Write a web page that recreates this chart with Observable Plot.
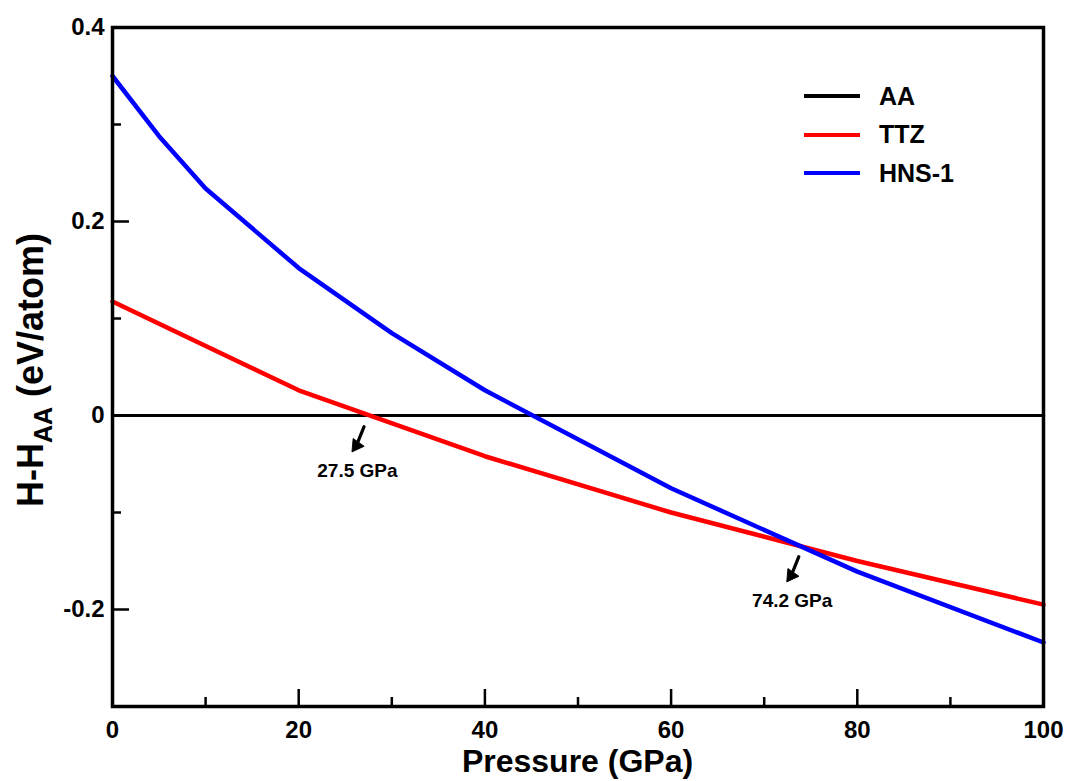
<!DOCTYPE html>
<html>
<head>
<meta charset="utf-8">
<script src="https://cdn.jsdelivr.net/npm/d3@7"></script>
<script src="https://cdn.jsdelivr.net/npm/@observablehq/plot@0.6"></script>
<style>
  html, body { margin: 0; padding: 0; background: #fff; }
  #chart { position: relative; width: 1070px; height: 781px; }
  #legend { position: absolute; left: 804px; top: 77px; font-family: "Liberation Sans", Arial, sans-serif; font-weight: bold; font-size: 25px; }
  #legend .row { display: flex; align-items: center; height: 38.5px; }
  #legend svg { margin-right: 19px; }
</style>
</head>
<body>
<div id="chart"><div id="legend"></div></div>
<script>
// Data
const pressureHNS = [0, 5, 10, 20, 30, 40, 60, 80, 100];
const enthalpyHNS = [0.350, 0.288, 0.234, 0.152, 0.085, 0.026, -0.075, -0.161, -0.234];
const pressureTTZ = [0, 20, 40, 60, 80, 100];
const enthalpyTTZ = [0.1175, 0.026, -0.042, -0.100, -0.150, -0.195];
const pressureAA = [0, 100];
const enthalpyAA = [0, 0];
const seriesNames = ["AA", "TTZ", "HNS-1"];
const seriesColors = ["#000000", "#ff0000", "#0000ff"];
const transitionPressures = [27.5, 74.2];
const transitionEnthalpies = [0, -0.134];
const transitionLabels = ["27.5 GPa", "74.2 GPa"];
const xMajorTicks = [0, 20, 40, 60, 80, 100];
const xMinorTicks = [10, 30, 50, 70, 90];
const yMajorTicks = [0.4, 0.2, 0, -0.2];
const yMinorTicks = [0.3, 0.1, -0.1, -0.3];

const lineRows = (name, ps, hs) => ps.map((p, i) => ({series: name, p, h: hs[i]}));
const aaRows = lineRows("AA", pressureAA, enthalpyAA);
const curveRows = [
  ...lineRows("TTZ", pressureTTZ, enthalpyTTZ),
  ...lineRows("HNS-1", pressureHNS, enthalpyHNS)
];
const annotations = transitionPressures.map((p, i) => ({p, h: transitionEnthalpies[i], label: transitionLabels[i]}));

const W = 1070, H = 781;
const mL = 112, mR = 27, mT = 27, mB = 75;
const plotH = H - mT - mB, plotW = W - mL - mR;

// arrow end (head centre) relative to the transition point, in data units
const headX = d => d.p - 1.3;
const headY = d => d.h - 0.031;

const font = '"Liberation Sans", Arial, sans-serif';
const chart = Plot.plot({
  width: W, height: H,
  marginLeft: mL, marginRight: mR, marginTop: mT, marginBottom: mB,
  style: {fontFamily: font, fontWeight: "bold", fontSize: "24px", color: "#000", background: "#fff"},
  x: {domain: [0, 100]},
  y: {domain: [-0.3, 0.4]},
  color: {domain: seriesNames, range: seriesColors},
  marks: [
    Plot.axisX(xMajorTicks, {tickSize: 0, tickPadding: 14, label: null, fontSize: 24}),
    Plot.axisY(yMajorTicks, {tickSize: 0, tickPadding: 8, label: null, fontSize: 24,
      tickFormat: d => d === 0 ? "0" : d.toFixed(1)}),
    Plot.tickX(xMajorTicks, {x: d => d, insetTop: plotH - 17, stroke: "#000", strokeWidth: 2.5}),
    Plot.tickX(xMinorTicks, {x: d => d, insetTop: plotH - 9, stroke: "#000", strokeWidth: 2.5}),
    Plot.tickY(yMajorTicks, {y: d => d, insetRight: plotW - 17, stroke: "#000", strokeWidth: 2.5}),
    Plot.tickY(yMinorTicks, {y: d => d, insetRight: plotW - 9, stroke: "#000", strokeWidth: 2.5}),
    Plot.line(aaRows, {x: "p", y: "h", stroke: "series", strokeWidth: 3.2}),
    Plot.line(curveRows, {x: "p", y: "h", z: "series", stroke: "series", strokeWidth: 4.5}),
    Plot.arrow(annotations, {
      x1: d => d.p, y1: d => d.h, x2: headX, y2: headY,
      insetStart: 12, stroke: "#000", strokeWidth: 3.2, headLength: 0
    }),
    Plot.dot(annotations, {x: headX, y: headY, symbol: "triangle", r: 5, rotate: 215,
      fill: "#000", stroke: "#000", strokeWidth: 0.8}),
    Plot.text(annotations, {x: headX, y: headY, text: "label", dy: 25, dx: 1,
      fontSize: 19, fontWeight: "bold", fill: "#000"}),
    Plot.frame({stroke: "#000", strokeWidth: 3.5})
  ]
});

document.getElementById("chart").prepend(chart);

const svg = d3.select(chart);
// Axis titles
svg.append("text")
  .attr("x", mL + plotW / 2).attr("y", 772)
  .attr("text-anchor", "middle")
  .style("font-size", "32px").style("font-weight", "bold").style("font-family", font)
  .text("Pressure (GPa)");
const yt = svg.append("text")
  .attr("transform", `translate(43, 370) rotate(-90)`)
  .attr("text-anchor", "middle")
  .style("font-size", "36px").style("font-weight", "bold").style("font-family", font);
yt.append("tspan").text("H-H");
yt.append("tspan").attr("dy", 9).style("font-size", "25px").text("AA");
yt.append("tspan").attr("dy", -9).text(" (eV/atom)");

// Legend
const legend = d3.select("#legend");
seriesNames.forEach((name, i) => {
  const row = legend.append("div").attr("class", "row");
  const s = row.append("svg").attr("width", 56).attr("height", 8);
  s.append("line").attr("x1", 0).attr("x2", 56).attr("y1", 4).attr("y2", 4)
    .attr("stroke", seriesColors[i]).attr("stroke-width", 4);
  row.append("span").text(name);
});
</script>
</body>
</html>
